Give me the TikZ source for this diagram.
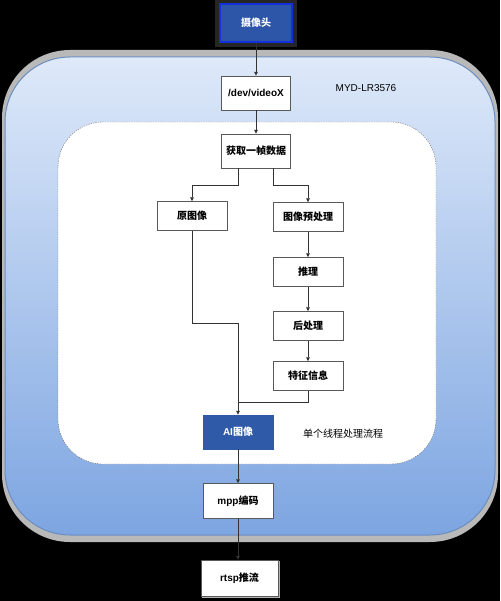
\documentclass[tikz,border=0pt]{standalone}
\usepackage{fontspec}
\setmainfont{Liberation Sans}
\newfontfamily\cjk{Noto Sans CJK SC}
\usetikzlibrary{positioning,arrows.meta}
\definecolor{camblue}{RGB}{45,86,168}
\definecolor{camedge}{RGB}{20,48,216}
\definecolor{aiblue}{RGB}{47,90,168}
\definecolor{boardtop}{RGB}{222,233,249}
\definecolor{boardbot}{RGB}{125,165,225}
\definecolor{boardedge}{RGB}{108,142,191}
\definecolor{lineclr}{RGB}{51,51,51}

\begin{document}
\begin{tikzpicture}[x=1pt,y=-1pt,
  box/.style={draw=gray!70!black,fill=white,minimum width=70pt,minimum height=29pt,inner sep=0pt,font=\bfseries\fontsize{10}{12}\selectfont},
  tallbox/.style={box,minimum height=34pt},
  bluebox/.style={tallbox,draw=aiblue,fill=aiblue,text=white},
  arr/.style={draw=lineclr,line width=0.7pt,-{Triangle[length=4pt,width=3.5pt]}},
  plain/.style={draw=lineclr,line width=0.7pt},
  note/.style={font=\fontsize{10}{12}\selectfont}]
\useasboundingbox (0,0) rectangle (500,601);
\fill[black] (0,0) rectangle (500,601);

% Board
\fill[gray!55,rounded corners=68pt] (2,50) rectangle (498,542);
\draw[boardedge,line width=1pt,rounded corners=65pt,top color=boardtop,bottom color=boardbot] (5,57) rectangle (495,535);
\node[note] (board) at (366,88) {MYD-LR3576};

% Thread
\draw[gray!80!black,fill=white,dash pattern=on 1.2pt off 1.2pt,rounded corners=45pt] (58,122) rectangle (436,464);
\node[note] (thread) at (343,434) {\cjk 单个线程处理流程};

% Camera
\fill[gray!30!black] (215,0) rectangle (297,47);
\node[bluebox,draw=camedge,fill=camblue,line width=1.6pt,minimum width=72pt,minimum height=38pt] (cam) at (256,23) {\cjk 摄像头};

% Capture
\node[tallbox,minimum width=69pt] (dev) at (256,93) {/dev/videoX};
\node[tallbox,minimum width=69pt] (grab) at (256,151) {\cjk 获取一帧数据};

% Branches
\node[box] (orig) at (192,216) {\cjk 原图像};
\node[box] (pre) at (308,217) {\cjk 图像预处理};
\node[box] (infer) at (308,272) {\cjk 推理};
\node[box] (post) at (308,326) {\cjk 后处理};
\node[box] (feat) at (308,376) {\cjk 特征信息};

% Output
\node[bluebox] (ai) at (238,432) {AI{\cjk 图像}};
\node[tallbox,minimum height=35pt] (mpp) at (238,501) {mpp{\cjk 编码}};
\fill[gray!60] (202,561) rectangle (280,598);
\node[tallbox,minimum width=77pt,minimum height=36pt] (rtsp) at (239.5,578) {rtsp{\cjk 推流}};

\coordinate (splitL) at (192,185);
\coordinate (splitR) at (308,185);
\coordinate (mergeL) at (238,323);
\coordinate (mergeR) at (238,402);

% Arrows
\draw[arr] (cam) -- (dev);
\draw[arr] (dev) -- (grab);
\draw[arr] ([xshift=-18pt]grab.south) |- (splitL) -- (orig.north);
\draw[arr] ([xshift=17pt]grab.south) |- (splitR) -- (pre.north);
\draw[arr] (pre) -- (infer);
\draw[arr] (infer) -- (post);
\draw[arr] (post) -- (feat);
\draw[arr] (orig.south) |- (mergeL) -- (ai.north);
\draw[plain] (feat.south) |- (mergeR);
\draw[arr] (ai) -- (mpp);
\draw[arr] (mpp.south) -- (mpp.south |- rtsp.north);
\end{tikzpicture}
\end{document}
